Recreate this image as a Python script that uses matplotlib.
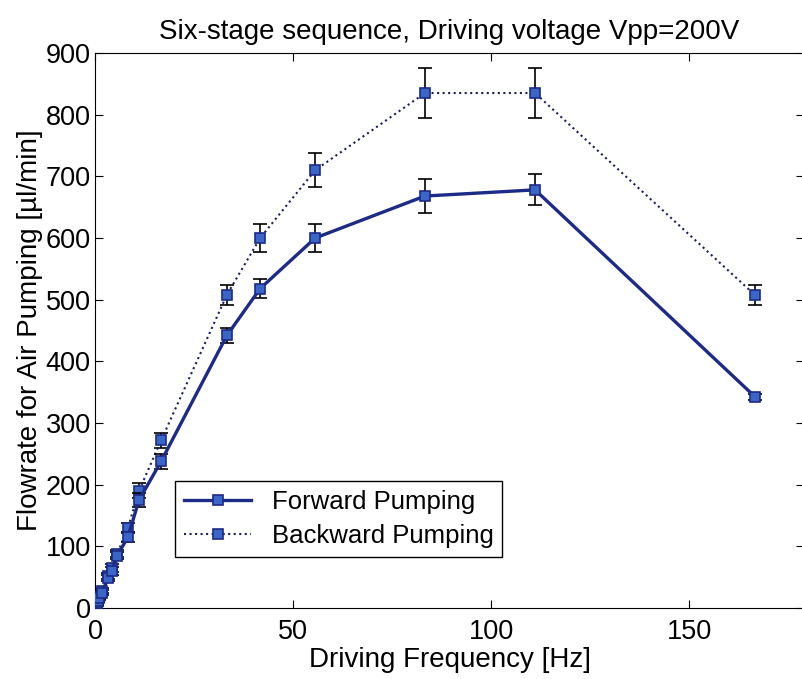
import matplotlib.pyplot as plt

plt.rcParams['font.family'] = ['Liberation Sans', 'DejaVu Sans']

# driving frequency [Hz]
freq = [0.42, 0.56, 0.83, 1.1, 1.67, 3.3, 4.2, 5.6, 8.3, 11.1, 16.7, 33.3, 41.7, 55.6, 83.3, 111.1, 166.7]

# flowrate [ul/min]
forward = [6, 8, 12, 16, 25, 48, 60, 85, 115, 175, 238, 442, 518, 600, 668, 678, 342]
forward_err = [2, 2, 3, 3, 4, 5, 6, 6, 8, 12, 12, 12, 16, 22, 27, 25, 5]
backward = [7, 9, 13, 18, 28, 52, 65, 88, 130, 190, 272, 508, 600, 710, 835, 835, 507]
backward_err = [2, 2, 3, 3, 4, 5, 6, 6, 8, 12, 12, 16, 22, 28, 40, 40, 16]

fig = plt.figure(figsize=(8.02, 6.79), dpi=100)
ax = fig.add_axes([0.1185, 0.1046, 0.884, 0.8174])

navy = '#1c2a88'
fill = '#3a66c8'

bw = ax.errorbar(freq, backward, yerr=backward_err, color='#1a1f5a', ls=':', lw=1.5,
                 marker='s', ms=7, mfc=fill, mec=navy, mew=1.2,
                 ecolor='black', elinewidth=1.2, capsize=5, capthick=1.2, zorder=3)
fw = ax.errorbar(freq, forward, yerr=forward_err, color=navy, ls='-', lw=2.4,
                 marker='s', ms=7, mfc=fill, mec=navy, mew=1.2,
                 ecolor='black', elinewidth=1.2, capsize=5, capthick=1.2, zorder=4)

ax.set_xlim(0, 179)
ax.set_ylim(0, 900)
ax.set_xticks([0, 50, 100, 150])
ax.set_yticks(range(0, 901, 100))
ax.tick_params(direction='in', length=6, labelsize=19.5, top=True, right=True, pad=3)
ax.tick_params(axis='x', pad=8)

ax.set_title('Six-stage sequence, Driving voltage Vpp=200V', fontsize=20, pad=10)
ax.set_xlabel('Driving Frequency [Hz]', fontsize=20, labelpad=1.5)
ax.set_ylabel('Flowrate for Air Pumping [\u00b5l/min]', fontsize=20, labelpad=2)

leg = ax.legend([fw[0], bw[0]], ['Forward Pumping', 'Backward Pumping'],
                loc='lower left', bbox_to_anchor=(0.113, 0.092),
                fontsize=18.5, fancybox=False, edgecolor='black', framealpha=1,
                handlelength=2.6, handletextpad=0.8, borderpad=0.35, labelspacing=0.4,
                borderaxespad=0)
leg.get_frame().set_linewidth(1.0)

fig.savefig('out.png', dpi=100)
